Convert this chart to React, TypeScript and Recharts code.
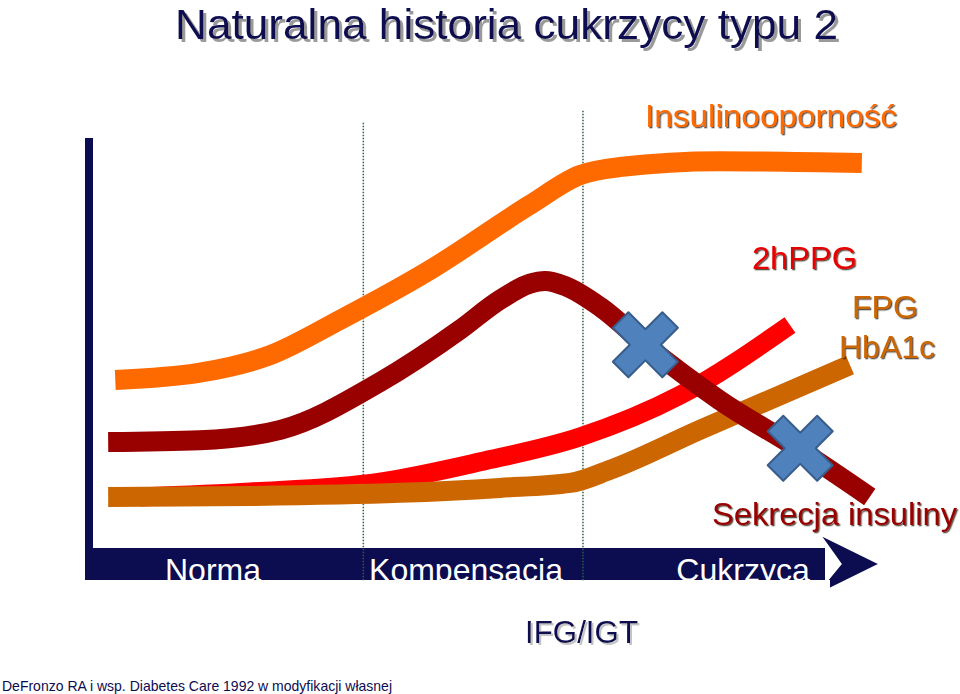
import React from 'react';
import {
  ComposedChart,
  Line,
  Scatter,
  XAxis,
  YAxis,
  ReferenceLine
} from 'recharts';

// Schematic curves, x = time (0-100), y = level (0-100)
const insulinResistance = [
  { x: 3.2, y: 37.8 },
  { x: 13.9, y: 39.4 },
  { x: 22.8, y: 43.3 },
  { x: 31.6, y: 51.1 },
  { x: 43.0, y: 62.2 },
  { x: 55.7, y: 76.7 },
  { x: 62.0, y: 83.3 },
  { x: 67.1, y: 85.1 },
  { x: 79.7, y: 86.4 },
  { x: 97.7, y: 86.0 }
];

const insulinSecretion = [
  { x: 2.3, y: 24.0 },
  { x: 13.9, y: 24.4 },
  { x: 24.1, y: 26.7 },
  { x: 36.7, y: 37.3 },
  { x: 46.8, y: 48.9 },
  { x: 51.9, y: 55.6 },
  { x: 55.7, y: 59.2 },
  { x: 57.6, y: 59.8 },
  { x: 60.1, y: 58.7 },
  { x: 64.6, y: 54.0 },
  { x: 70.3, y: 45.6 },
  { x: 79.7, y: 33.3 },
  { x: 89.9, y: 22.2 },
  { x: 98.7, y: 11.8 }
];

const ppg2h = [
  { x: 6.3, y: 11.8 },
  { x: 20.3, y: 12.9 },
  { x: 36.7, y: 15.1 },
  { x: 49.4, y: 19.6 },
  { x: 62.0, y: 25.1 },
  { x: 74.7, y: 34.4 },
  { x: 88.6, y: 50.0 }
];

const fpgHba1c = [
  { x: 2.3, y: 11.8 },
  { x: 20.3, y: 12.0 },
  { x: 39.2, y: 12.7 },
  { x: 51.9, y: 13.8 },
  { x: 60.8, y: 14.9 },
  { x: 65.8, y: 17.8 },
  { x: 77.2, y: 26.7 },
  { x: 96.2, y: 41.1 }
];

// blue crosses on the secretion curve
const failurePoints = [
  { x: 70.3, y: 45.6 },
  { x: 89.9, y: 22.6 }
];

// dotted phase boundaries: [x, top]
const phaseBounds = [
  [34.6, 95.1],
  [62.4, 97.8]
];

const phaseLabels = ['Norma', 'Kompensacja', 'Cukrzyca'];

const NAVY = '#0c0c50';
const FONT = '"Liberation Sans", Arial, sans-serif';

function CrossShape(props: any) {
  const { cx, cy } = props;
  if (cx == null || cy == null) return null;
  const a = 11;
  const L = 35;
  const pts = [
    [-a, -L], [a, -L], [a, -a], [L, -a], [L, a], [a, a],
    [a, L], [-a, L], [-a, a], [-L, a], [-L, -a], [-a, -a]
  ];
  const c = Math.SQRT1_2;
  const d = pts
    .map(([px, py]) => `${cx + (px - py) * c},${cy + (px + py) * c}`)
    .join(' ');
  return (
    <polygon
      points={d}
      fill="#4f81bd"
      stroke="#385d8a"
      strokeWidth={2}
      strokeLinejoin="round"
    />
  );
}

function Label({ x, y, size, color, filter, length, children }: any) {
  return (
    <text
      x={x}
      y={y}
      fontFamily={FONT}
      fontSize={size}
      fill={color}
      filter={`url(#${filter})`}
      textLength={length}
      lengthAdjust="spacingAndGlyphs"
    >
      {children}
    </text>
  );
}

export default function App() {
  return (
    <div style={{ position: 'absolute', left: 0, top: 0, width: 960, height: 694, background: '#fff' }}>
      {/* axes underlay */}
      <svg width={960} height={694} style={{ position: 'absolute', left: 0, top: 0 }}>
        <rect x={85} y={138} width={8} height={442} fill={NAVY} />
        <rect x={85} y={548} width={740} height={32} fill={NAVY} />
        <polygon
          points="818,533 881,564 812,598 840,564"
          fill={NAVY}
          stroke="#fff"
          strokeWidth={3}
          strokeLinejoin="miter"
        />
        <g fontFamily={FONT} fontSize={32} fill="#fff" textAnchor="middle">
          <text x={213} y={581}>{phaseLabels[0]}</text>
          <text x={466} y={581}>{phaseLabels[1]}</text>
          <text x={743} y={581}>{phaseLabels[2]}</text>
        </g>
        <rect x={0} y={580} width={830} height={20} fill="#fff" />
      </svg>

      <div style={{ position: 'absolute', left: 0, top: 0 }}>
        <ComposedChart
          width={960}
          height={694}
          margin={{ top: 100, right: 80, bottom: 144, left: 90 }}
        >
          <XAxis type="number" dataKey="x" domain={[0, 100]} hide allowDataOverflow />
          <YAxis type="number" dataKey="y" domain={[0, 100]} hide allowDataOverflow />
          {phaseBounds.map(([bx, top]) => (
            <ReferenceLine
              key={bx}
              segment={[{ x: bx, y: -6.7 }, { x: bx, y: top }]}
              stroke="#2f5f3f"
              strokeWidth={1.5}
              strokeDasharray="1.5 1.5"
              ifOverflow="visible"
            />
          ))}
          <Line data={ppg2h} dataKey="y" type="monotone" stroke="#ff0000" strokeWidth={19} dot={false} isAnimationActive={false} />
          <Line data={fpgHba1c} dataKey="y" type="monotone" stroke="#cc6600" strokeWidth={20} dot={false} isAnimationActive={false} />
          <Line data={insulinResistance} dataKey="y" type="monotone" stroke="#ff6a00" strokeWidth={20} dot={false} isAnimationActive={false} />
          <Line data={insulinSecretion} dataKey="y" type="monotone" stroke="#990000" strokeWidth={20} strokeLinejoin="round" dot={false} isAnimationActive={false} />
          <Scatter data={failurePoints} dataKey="y" shape={CrossShape} isAnimationActive={false} />
        </ComposedChart>
      </div>

      {/* labels overlay */}
      <svg width={960} height={694} style={{ position: 'absolute', left: 0, top: 0, pointerEvents: 'none' }}>
        <defs>
          <filter id="shGray" x="-5%" y="-20%" width="110%" height="150%">
            <feDropShadow dx={3} dy={3} stdDeviation={0.6} floodColor="#9a9a9a" />
          </filter>
          <filter id="shLight" x="-5%" y="-20%" width="110%" height="150%">
            <feDropShadow dx={2} dy={2} stdDeviation={0.6} floodColor="#c4c4c4" />
          </filter>
          <filter id="shDark" x="-5%" y="-20%" width="110%" height="150%">
            <feDropShadow dx={1.3} dy={1.3} stdDeviation={0.4} floodColor="#2a1a10" floodOpacity={0.75} />
          </filter>
        </defs>
        <Label x={175} y={39} size={42} color={NAVY} filter="shGray" length={663}>
          Naturalna historia cukrzycy typu 2
        </Label>
        <Label x={645} y={127} size={32} color="#ff6a00" filter="shDark" length={252}>
          Insulinooporność
        </Label>
        <Label x={752} y={269} size={32} color="#e80000" filter="shDark" length={105}>
          2hPPG
        </Label>
        <Label x={852} y={318} size={32} color="#cc6600" filter="shDark" length={66}>
          FPG
        </Label>
        <Label x={839} y={358} size={32} color="#cc6600" filter="shDark" length={96}>
          HbA1c
        </Label>
        <Label x={712} y={525} size={32} color="#990000" filter="shDark" length={245}>
          Sekrecja insuliny
        </Label>
        <Label x={525} y={643} size={32} color={NAVY} filter="shLight" length={113}>
          IFG/IGT
        </Label>
        <text x={2} y={691} fontFamily={FONT} fontSize={15} fill={NAVY} textLength={390} lengthAdjust="spacingAndGlyphs">
          DeFronzo RA i wsp. Diabetes Care 1992 w modyfikacji własnej
        </text>
      </svg>
    </div>
  );
}
